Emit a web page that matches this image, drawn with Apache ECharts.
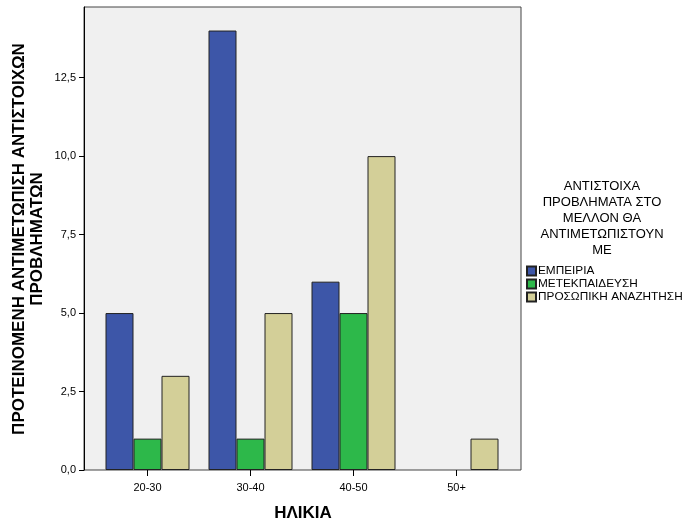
<!DOCTYPE html>
<html>
<head>
<meta charset="utf-8">
<script src="https://cdn.jsdelivr.net/npm/echarts@6/dist/echarts.min.js"></script>
<style>
  html, body { margin: 0; padding: 0; background: #ffffff; }
  #chart { width: 683px; height: 525px; }
</style>
</head>
<body>
<div id="chart"></div>
<script>
// Age groups and counts per response category
const categories = ['20-30', '30-40', '40-50', '50+'];
const seriesNames = ['ΕΜΠΕΙΡΙΑ', 'ΜΕΤΕΚΠΑΙΔΕΥΣΗ', 'ΠΡΟΣΩΠΙΚΗ ΑΝΑΖΗΤΗΣΗ'];
const empeiria = [5, 14, 6, null];
const metekpaideusi = [1, 1, 5, null];
const prosopiki = [3, 5, 10, 1];
const yTicks = [0, 2.5, 5, 7.5, 10, 12.5];
const yMax = 14.75;

const colors = ['#3d56a8', '#2db84a', '#d3cf98'];
const font = 'Liberation Sans, Arial, sans-serif';

const chart = echarts.init(document.getElementById('chart'), null, { renderer: 'canvas' });

const seriesData = [empeiria, metekpaideusi, prosopiki];

chart.setOption({
  animation: false,
  backgroundColor: '#ffffff',
  textStyle: { fontFamily: font },
  grid: [
    // framed plot area
    { left: 84, right: 162, top: 7, bottom: 55, show: true,
      backgroundColor: '#f0f0f0', borderColor: '#444', borderWidth: 1 },
    // bar area, inset from the frame
    { left: 96, right: 175, top: 7, bottom: 55 }
  ],
  xAxis: [
    { gridIndex: 0, type: 'value', min: 0, max: 1, show: false },
    { gridIndex: 1, type: 'category', data: categories,
      axisLine: { show: false },
      axisTick: { show: true, alignWithLabel: true, length: 6, lineStyle: { color: '#000' } },
      axisLabel: { color: '#000', fontSize: 11, margin: 12, fontFamily: font },
      splitLine: { show: false } }
  ],
  yAxis: [
    { gridIndex: 0, type: 'value', min: 0, max: yMax,
      axisLine: { show: true, lineStyle: { color: '#000' } },
      axisTick: { show: true, length: 5, lineStyle: { color: '#000' }, customValues: yTicks },
      axisLabel: { color: '#000', fontSize: 11, margin: 8, fontFamily: font, customValues: yTicks,
        formatter: v => v.toFixed(1).replace('.', ',') },
      splitLine: { show: false } },
    { gridIndex: 1, type: 'value', min: 0, max: yMax, show: false }
  ],
  legend: {
    orient: 'vertical', left: 521, top: 260,
    itemWidth: 9, itemHeight: 9, itemGap: 1,
    icon: 'rect',
    textStyle: { color: '#000', fontSize: 11.8, fontFamily: font, padding: [0, 0, 0, -3] },
    data: seriesNames
  },
  graphic: [
    { type: 'text', rotation: Math.PI / 2, x: 19, y: 239,
      style: { text: 'ΠΡΟΤΕΙΝΟΜΕΝΗ ΑΝΤΙΜΕΤΩΠΙΣΗ ΑΝΤΙΣΤΟΙΧΩΝ', font: 'bold 17px ' + font,
        fill: '#000', align: 'center', verticalAlign: 'middle' } },
    { type: 'text', rotation: Math.PI / 2, x: 37, y: 239,
      style: { text: 'ΠΡΟΒΛΗΜΑΤΩΝ', font: 'bold 17px ' + font,
        fill: '#000', align: 'center', verticalAlign: 'middle' } },
    { type: 'text', x: 303, y: 513,
      style: { text: 'ΗΛΙΚΙΑ', font: 'bold 17px ' + font,
        fill: '#000', align: 'center', verticalAlign: 'middle' } },
    { type: 'text', x: 602, y: 178,
      style: { text: 'ΑΝΤΙΣΤΟΙΧΑ\nΠΡΟΒΛΗΜΑΤΑ ΣΤΟ\nΜΕΛΛΟΝ ΘΑ\nΑΝΤΙΜΕΤΩΠΙΣΤΟΥΝ\nΜΕ',
        font: '13px ' + font, lineHeight: 16, fill: '#000', align: 'center', verticalAlign: 'top' } }
  ],
  series: seriesNames.map((name, i) => ({
    name: name,
    type: 'bar',
    xAxisIndex: 1,
    yAxisIndex: 1,
    data: seriesData[i],
    barWidth: 28,
    barGap: '0%',
    itemStyle: { color: colors[i], borderColor: '#222', borderWidth: 1 }
  }))
});
</script>
</body>
</html>
